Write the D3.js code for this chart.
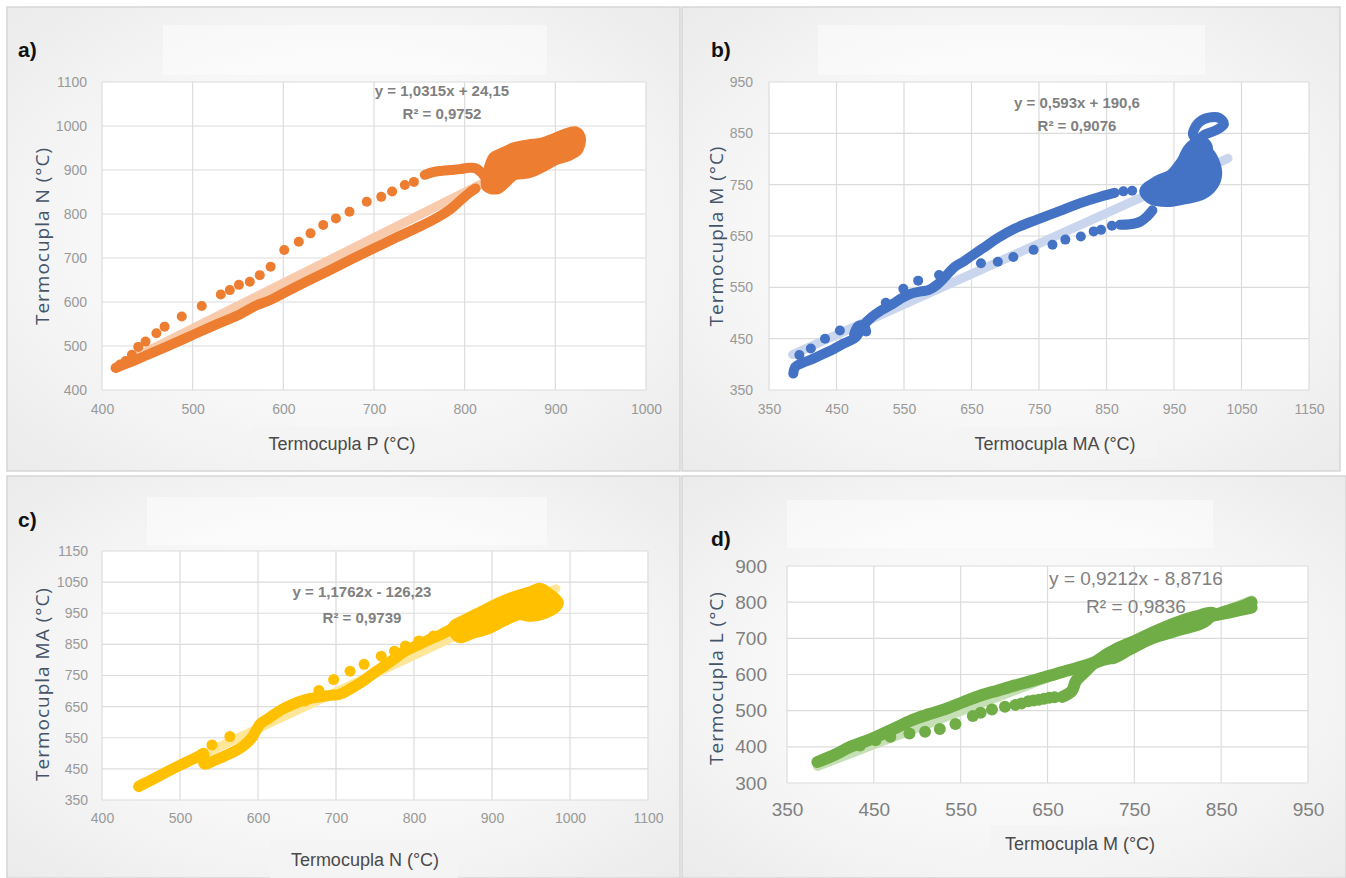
<!DOCTYPE html>
<html lang="es">
<head>
<meta charset="UTF-8">
<title>Termocuplas</title>
<script src="https://d3js.org/d3.v7.min.js"></script>
<style>
  body { margin: 0; background: #fff; }
  .tick text { font-family: "Liberation Sans", Arial, sans-serif; }
  .eq { font-family: "Liberation Sans", Arial, sans-serif; fill: #808080; text-anchor: middle; }
  .xt { font-family: "Liberation Sans", Arial, sans-serif; fill: #4a4a4a; text-anchor: middle; font-size: 18px; }
  .yt { font-family: "Open Sans", sans-serif; fill: #44546a; text-anchor: middle; font-size: 19px; letter-spacing: 1px; }
  .lab { font-family: "Liberation Sans", Arial, sans-serif; font-weight: bold; font-size: 21px; fill: #111; }
</style>
</head>
<body>
<div id="chart"></div>
<script>
// ---- a) Termocupla P vs N ----
var aXTicks = [400, 500, 600, 700, 800, 900, 1000];
var aYTicks = [400, 500, 600, 700, 800, 900, 1000, 1100];
var aTrace = [[415,450],[430,462],[450,480],[475,502],[500,525],[525,548],[550,570],[570,592],[585,604],[600,620],[625,646],[650,671],[675,697],[700,722],[725,747],[750,771],[770,792],[785,812],[797,834],[805,848],[812,858]];
var aUpper = [[756,889],[765,895],[775,898],[785,900],[795,902],[805,905],[812,904],[818,895],[824,880],[830,868]];
var aDots = [[420,458],[426,466],[433,480],[440,498],[448,510],[460,529],[469,544],[488,567],[510,591],[531,617],[541,627],[551,639],[563,646],[574,661],[586,680],[601,718],[617,737],[630,756],[644,775],[658,790],[673,805],[692,828],[708,839],[720,851],[734,866],[744,873]];
var aBlob = [[824,862],[826,900],[832,930],[842,940],[855,952],[870,958],[885,962],[898,972],[910,982],[922,988],[928,975],[925,945],[915,932],[900,922],[885,905],[870,892],[855,888],[845,870],[836,856]];
var aFit = { m: 1.0315, b: 24.15, from: 415, to: 922 };
var aEq = ["y = 1,0315x + 24,15", "R\u00b2 = 0,9752"];

// ---- b) Termocupla MA vs M ----
var bXTicks = [350, 450, 550, 650, 750, 850, 950, 1050, 1150];
var bYTicks = [350, 450, 550, 650, 750, 850, 950];
var bTrace = [[386,382],[389,395],[400,403],[414,410],[430,420],[446,430],[460,440],[478,452],[490,476],[503,493],[520,508],[535,519],[548,530],[561,538],[575,542],[587,545],[599,555],[612,572],[625,590],[638,600],[651,612],[670,629],[689,646],[715,665],[747,682],[779,698],[811,714],[842,727],[862,734]];
var bReturn = [[918,700],[910,688],[900,678],[885,673],[870,672]];
var bKnot = [[476,458],[482,474],[490,476],[494,464]];
var bDots = [[395,418],[412,431],[433,450],[455,466],[523,520],[549,547],[571,563],[602,574],[664,597],[689,600],[712,609],[742,623],[770,633],[789,643],[812,649],[831,659],[842,662],[858,670],[875,737],[888,738]];
var bBlob = [[906,738],[925,758],[945,770],[958,790],[970,810],[985,822],[1000,815],[1010,795],[1014,770],[1008,748],[992,730],[968,722],[940,716],[915,722]];
var bRingTop = [[978,848],[986,870],[1000,880],[1017,880],[1024,868],[1012,856],[996,848],[985,838]];
var bRingMid = [[960,780],[965,806],[975,826],[990,836],[1000,824],[996,800],[986,786],[972,778]];
var bFit = { m: 0.593, b: 190.6, from: 385, to: 1030 };
var bEq = ["y = 0,593x + 190,6", "R\u00b2 = 0,9076"];

// ---- c) Termocupla N vs MA ----
var cXTicks = [400, 500, 600, 700, 800, 900, 1000, 1100];
var cYTicks = [350, 450, 550, 650, 750, 850, 950, 1050, 1150];
var cTrace = [[447,393],[462,412],[480,436],[497,458],[512,476],[525,492],[530,500],[531,466],[545,478],[558,492],[570,506],[582,525],[592,550],[598,575],[603,595],[612,610],[630,640],[645,658],[660,672],[675,680],[692,686],[705,690],[715,702],[731,726],[751,762],[770,795],[790,830],[805,848],[819,865],[835,882],[846,897]];
var cDots = [[541,527],[564,554],[641,653],[660,668],[678,702],[697,737],[718,764],[736,786],[758,812],[775,828],[789,845],[806,861],[825,877],[839,888]];
var cBlob = [[850,905],[870,935],[890,960],[910,985],[930,1005],[950,1020],[962,1030],[975,1010],[985,985],[982,970],[968,950],[950,940],[935,945],[915,925],[895,900],[875,885],[858,872]];
var cFit = { m: 1.1762, b: -126.23, from: 447, to: 982 };
var cEq = ["y = 1,1762x - 126,23", "R\u00b2 = 0,9739"];

// ---- d) Termocupla M vs L ----
var dXTicks = [350, 450, 550, 650, 750, 850, 950];
var dYTicks = [300, 400, 500, 600, 700, 800, 900];
var dTrace = [[385,358],[405,378],[423,400],[440,415],[453,428],[473,450],[493,473],[513,490],[533,505],[553,524],[573,542],[593,556],[613,570],[633,583],[653,597],[673,611],[693,624],[711,638],[729,652],[746,676],[763,702],[783,720],[803,737],[823,752],[843,765],[860,778],[878,792],[885,800]];
var dReturn = [[885,785],[860,772],[831,758],[806,738],[786,722],[760,700],[734,676],[715,650],[703,630],[690,600],[683,583],[678,555],[667,538]];
var dDots = [[434,404],[452,418],[469,428],[491,437],[509,442],[526,449],[544,463],[564,485],[573,494],[586,503],[601,511],[613,516],[620,520],[628,526],[634,528],[640,530],[646,533],[652,536],[658,537]];
var dBlob = [[715,650],[740,680],[770,715],[800,745],[820,760],[840,770],[830,745],[800,722],[770,700],[745,670],[725,645]];
var dFit = { m: 0.9212, b: -8.8716, from: 385, to: 885 };
var dEq = ["y = 0,9212x - 8,8716", "R\u00b2 = 0,9836"];

var svg = d3.select("#chart").append("svg")
    .attr("width", 1346)
    .attr("height", 878);

var defs = svg.append("defs");
var bg = defs.append("radialGradient").attr("id", "bg").attr("cx", "50%").attr("cy", "50%").attr("r", "70%");
bg.append("stop").attr("offset", "0%").attr("stop-color", "#ffffff");
bg.append("stop").attr("offset", "55%").attr("stop-color", "#f7f7f7");
bg.append("stop").attr("offset", "100%").attr("stop-color", "#ebebeb");

svg.append("rect").attr("width", 1346).attr("height", 878).attr("fill", "#ffffff");

var panels = [
  { label: "a)", xTicks: aXTicks, yTicks: aYTicks, traces: [aTrace, aUpper], dots: aDots, blobs: [aBlob], rings: [], fit: aFit, eq: aEq,
    color: "#ed7d31", fitColor: "#f8cbad", xTitle: "Termocupla P (\u00b0C)", yTitle: "Termocupla N (\u00b0C)",
    frame: [7, 7, 673, 464], plot: [102, 646, 82, 390], titleBox: [163, 25, 384, 50], xBox: [252, 427, 181, 31],
    xTitlePos: [342, 450], yTitlePos: [42, 236], labPos: [18, 57], eqPos: [442, 96, 23], r: 5, fs: 14, eqFs: 15, eqBold: true, padX: 14, padY: 15, tickColor: "#999999" },
  { label: "b)", xTicks: bXTicks, yTicks: bYTicks, traces: [bTrace, bReturn, bKnot], dots: bDots, blobs: [bBlob], rings: [bRingTop, bRingMid], fit: bFit, eq: bEq,
    color: "#4472c4", fitColor: "#c9d6ee", xTitle: "Termocupla MA (\u00b0C)", yTitle: "Termocupla M (\u00b0C)",
    frame: [682, 7, 658, 464], plot: [769, 1309, 82, 390], titleBox: [818, 25, 387, 50], xBox: [953, 427, 205, 31],
    xTitlePos: [1055, 450], yTitlePos: [716, 236], labPos: [711, 57], eqPos: [1077, 108, 23], r: 5, fs: 14, eqFs: 15, eqBold: true, padX: 14, padY: 16, tickColor: "#999999" },
  { label: "c)", xTicks: cXTicks, yTicks: cYTicks, traces: [cTrace], dots: cDots, blobs: [cBlob], rings: [], fit: cFit, eq: cEq,
    color: "#ffc000", fitColor: "#ffe699", xTitle: "Termocupla N (\u00b0C)", yTitle: "Termocupla MA (\u00b0C)",
    frame: [7, 476, 673, 402], plot: [102, 648, 551, 800], titleBox: [147, 497, 400, 48], xBox: [270, 840, 188, 38],
    xTitlePos: [365, 866], yTitlePos: [42, 684], labPos: [18, 527], eqPos: [362, 597, 26], r: 5.5, fs: 14, eqFs: 15, eqBold: true, padX: 13, padY: 14, tickColor: "#999999" },
  { label: "d)", xTicks: dXTicks, yTicks: dYTicks, traces: [dTrace, dReturn], dots: dDots, blobs: [dBlob], rings: [], fit: dFit, eq: dEq,
    color: "#70ad47", fitColor: "#c5e0b4", xTitle: "Termocupla M (\u00b0C)", yTitle: "Termocupla L (\u00b0C)",
    frame: [682, 476, 664, 402], plot: [787, 1308, 566, 783], titleBox: [787, 500, 426, 48], xBox: [990, 825, 180, 34],
    xTitlePos: [1080, 850], yTitlePos: [716, 678], labPos: [711, 546], eqPos: [1136, 585, 28], r: 6, fs: 19, eqFs: 19, eqBold: false, padX: 20, padY: 20, tickColor: "#808080" }
];

panels.forEach(drawPanel);

function drawPanel(p) {
    var g = svg.append("g");
    var f = p.frame;
    g.append("rect").attr("x", f[0]).attr("y", f[1]).attr("width", f[2]).attr("height", f[3])
        .attr("fill", "url(#bg)").attr("stroke", "#d6d6d6").attr("stroke-width", 1.5);
    g.append("rect").attr("x", p.titleBox[0]).attr("y", p.titleBox[1]).attr("width", p.titleBox[2]).attr("height", p.titleBox[3])
        .attr("fill", "#ffffff").attr("opacity", 0.45);
    g.append("rect").attr("x", p.xBox[0]).attr("y", p.xBox[1]).attr("width", p.xBox[2]).attr("height", p.xBox[3])
        .attr("fill", "#f4f4f4").attr("opacity", 0.9);

    var x = d3.scaleLinear().domain([p.xTicks[0], p.xTicks[p.xTicks.length - 1]]).range([p.plot[0], p.plot[1]]);
    var y = d3.scaleLinear().domain([p.yTicks[0], p.yTicks[p.yTicks.length - 1]]).range([p.plot[3], p.plot[2]]);

    g.append("rect").attr("x", p.plot[0]).attr("y", p.plot[2])
        .attr("width", p.plot[1] - p.plot[0]).attr("height", p.plot[3] - p.plot[2]).attr("fill", "#ffffff");

    // grid
    g.selectAll(".gx").data(p.xTicks).enter().append("line")
        .attr("x1", function (d) { return x(d); }).attr("x2", function (d) { return x(d); })
        .attr("y1", p.plot[2]).attr("y2", p.plot[3])
        .attr("stroke", "#dcdcdc").attr("stroke-width", 1.2);
    g.selectAll(".gy").data(p.yTicks).enter().append("line")
        .attr("x1", p.plot[0]).attr("x2", p.plot[1])
        .attr("y1", function (d) { return y(d); }).attr("y2", function (d) { return y(d); })
        .attr("stroke", "#dcdcdc").attr("stroke-width", 1.2);

    // ejes
    var ax = g.append("g").attr("transform", "translate(0," + p.plot[3] + ")")
        .call(d3.axisBottom(x).tickValues(p.xTicks).tickSize(0).tickPadding(p.padX).tickFormat(d3.format("d")));
    var ay = g.append("g").attr("transform", "translate(" + p.plot[0] + ",0)")
        .call(d3.axisLeft(y).tickValues(p.yTicks).tickSize(0).tickPadding(p.padY).tickFormat(d3.format("d")));
    [ax, ay].forEach(function (a) {
        a.select(".domain").remove();
        a.selectAll("text").style("font-size", p.fs + "px").attr("fill", p.tickColor);
    });

    // tendencia
    g.append("line")
        .attr("x1", x(p.fit.from)).attr("y1", y(p.fit.m * p.fit.from + p.fit.b))
        .attr("x2", x(p.fit.to)).attr("y2", y(p.fit.m * p.fit.to + p.fit.b))
        .attr("stroke", p.fitColor).attr("stroke-width", 9).attr("stroke-linecap", "round");

    var line = d3.line().x(function (d) { return x(d[0]); }).y(function (d) { return y(d[1]); }).curve(d3.curveCatmullRom);
    var closed = d3.line().x(function (d) { return x(d[0]); }).y(function (d) { return y(d[1]); }).curve(d3.curveCatmullRomClosed);

    p.blobs.forEach(function (b) {
        g.append("path").attr("d", closed(b)).attr("fill", p.color)
            .attr("stroke", p.color).attr("stroke-width", p.r * 2).attr("stroke-linejoin", "round");
    });
    p.rings.forEach(function (b) {
        g.append("path").attr("d", closed(b)).attr("fill", "none")
            .attr("stroke", p.color).attr("stroke-width", p.r * 2);
    });
    p.traces.forEach(function (t) {
        g.append("path").attr("d", line(t)).attr("fill", "none")
            .attr("stroke", p.color).attr("stroke-width", p.r * 2)
            .attr("stroke-linecap", "round").attr("stroke-linejoin", "round");
    });
    g.selectAll(".dot").data(p.dots).enter().append("circle")
        .attr("cx", function (d) { return x(d[0]); })
        .attr("cy", function (d) { return y(d[1]); })
        .attr("r", p.r).attr("fill", p.color);

    // ecuacion
    p.eq.forEach(function (t, i) {
        g.append("text").attr("class", "eq")
            .attr("x", p.eqPos[0]).attr("y", p.eqPos[1] + i * p.eqPos[2])
            .style("font-size", p.eqFs + "px").style("font-weight", p.eqBold ? "bold" : "normal")
            .text(t);
    });

    g.append("text").attr("class", "xt").attr("x", p.xTitlePos[0]).attr("y", p.xTitlePos[1]).text(p.xTitle);
    g.append("text").attr("class", "yt")
        .attr("transform", "translate(" + p.yTitlePos[0] + "," + p.yTitlePos[1] + ") rotate(-90)")
        .attr("dy", "0.35em").text(p.yTitle);
    g.append("text").attr("class", "lab").attr("x", p.labPos[0]).attr("y", p.labPos[1]).text(p.label);
}
</script>
</body>
</html>
